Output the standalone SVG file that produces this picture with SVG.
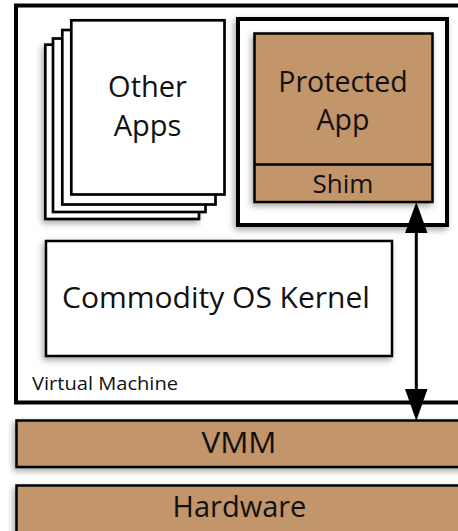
<svg xmlns="http://www.w3.org/2000/svg" width="458" height="531" viewBox="0 0 458 531">
<defs>
<filter id="sh" x="-20%" y="-20%" width="140%" height="140%">
<feDropShadow dx="-2" dy="3" stdDeviation="3" flood-color="#000" flood-opacity="0.35"/>
</filter>
<style>
.page{fill:#fff;stroke:#000;stroke-width:2.7}
.box{fill:#fff;stroke:#000;stroke-width:2.5}
.brown{fill:#C2956B;stroke:#000;stroke-width:2.5}
.thick{fill:#fff;stroke:#000;stroke-width:4}
text{font-family:"Open Sans","DejaVu Sans",sans-serif;fill:#111;text-anchor:middle}
</style>
</defs>
<rect width="458" height="531" fill="#fff"/>
<g id="hardware">
<rect class="brown" x="16.5" y="485.5" width="460" height="60" filter="url(#sh)"/>
<text x="239.5" y="517" font-size="29">Hardware</text>
</g>
<g id="vmm">
<rect class="brown" x="16.5" y="420.5" width="460" height="46.5" filter="url(#sh)"/>
<text x="239" y="453" font-size="29" textLength="75" lengthAdjust="spacingAndGlyphs">VMM</text>
</g>
<g id="virtual-machine">
<rect class="thick" x="16" y="5.5" width="470" height="397"/>
<text x="105" y="390" font-size="18.5" textLength="146" lengthAdjust="spacingAndGlyphs">Virtual Machine</text>
</g>
<g id="other-apps">
<rect class="page" x="45.3" y="44.7" width="153.7" height="174.3" filter="url(#sh)"/>
<rect class="page" x="53" y="38.5" width="152.5" height="173.5"/>
<rect class="page" x="62.3" y="30" width="153.2" height="174.5"/>
<rect class="page" x="71.3" y="20.3" width="153.2" height="174.2"/>
<text x="147.5" y="97" font-size="29">Other</text>
<text x="147.5" y="136" font-size="29">Apps</text>
</g>
<g id="protected-domain">
<rect class="thick" x="238" y="19" width="209" height="206" filter="url(#sh)"/>
</g>
<g id="protected-app">
<rect class="brown" x="254.5" y="33.5" width="178" height="168.5" filter="url(#sh)"/>
<line x1="254.5" y1="164.5" x2="432.5" y2="164.5" stroke="#000" stroke-width="2.5"/>
<text x="343" y="91.5" font-size="28.5">Protected</text>
<text x="343" y="130" font-size="28.5">App</text>
</g>
<g id="shim">
<text x="343" y="193" font-size="26">Shim</text>
</g>
<g id="kernel">
<rect class="box" x="46" y="241" width="346" height="115" filter="url(#sh)"/>
<text x="216" y="308" font-size="30">Commodity OS Kernel</text>
</g>
<g id="connectors">
<line x1="416.3" y1="225" x2="416.3" y2="395" stroke="#000" stroke-width="3"/>
<polygon points="416.3,202 427.5,233 405,233" fill="#000"/>
<polygon points="416.3,421 427.5,389 405,389" fill="#000"/>
</g>
</svg>
